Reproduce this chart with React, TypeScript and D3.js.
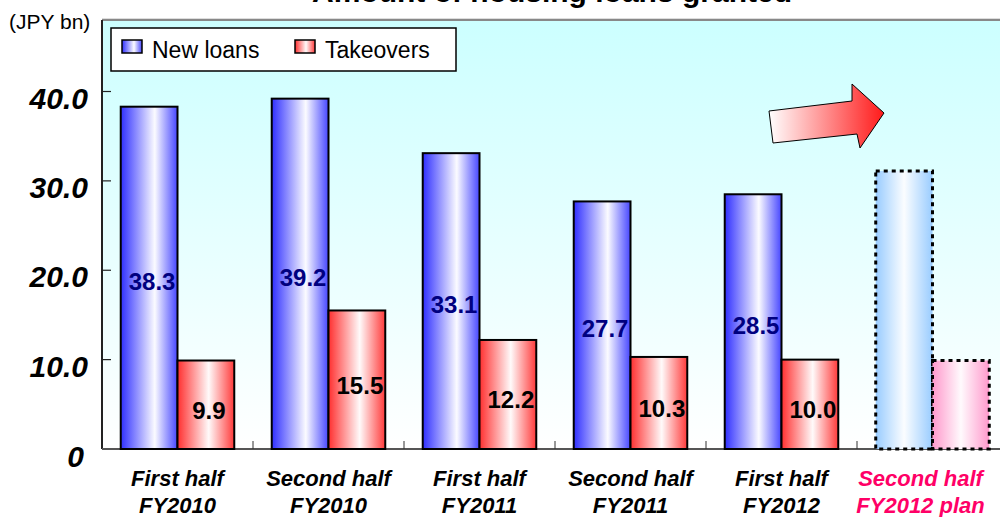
import React from "react";
import * as d3 from "d3";

const categories = [
  ["First half", "FY2010"],
  ["Second half", "FY2010"],
  ["First half", "FY2011"],
  ["Second half", "FY2011"],
  ["First half", "FY2012"],
  ["Second half", "FY2012 plan"],
];
const newLoans = [38.3, 39.2, 33.1, 27.7, 28.5, 31.1];
const takeovers = [9.9, 15.5, 12.2, 10.3, 10.0, 9.9];
const showLabel = [true, true, true, true, true, false];
const yTicks = [0, 10, 20, 30, 40];
const seriesNames = ["New loans", "Takeovers"];

const W = 1000;
const H = 517;
const plotLeft = 102;
const plotTop = 20;
const plotBottom = 449;

export default function App() {
  const keys = categories.map((_, i) => String(i));
  const x0 = d3.scaleBand<string>().domain(keys).range([plotLeft, plotLeft + 151 * 6]).padding(0);
  const x1 = d3
    .scaleBand<string>()
    .domain(["n", "t"])
    .range([0, x0.bandwidth()])
    .paddingInner(0)
    .paddingOuter(0.33);
  const y = d3.scaleLinear().domain([0, 48]).range([plotBottom, plotTop]);
  const font = "Arial, 'Liberation Sans', sans-serif";

  return (
    <svg width={W} height={H} style={{ position: "absolute", left: 0, top: 0 }} fontFamily={font}>
      <defs>
        <linearGradient id="bg" x1="0" y1="0" x2="0" y2="1">
          <stop offset="0" stopColor="#ccffff" />
          <stop offset="1" stopColor="#ffffff" />
        </linearGradient>
        <linearGradient id="gBlue" x1="0" y1="0" x2="1" y2="0">
          <stop offset="0" stopColor="#2f2fff" />
          <stop offset="0.6" stopColor="#fbfbff" />
          <stop offset="1" stopColor="#4646ff" />
        </linearGradient>
        <linearGradient id="gRed" x1="0" y1="0" x2="1" y2="0">
          <stop offset="0" stopColor="#ff2f2f" />
          <stop offset="0.55" stopColor="#fffafa" />
          <stop offset="1" stopColor="#ff3a3a" />
        </linearGradient>
        <linearGradient id="gBluePlan" x1="0" y1="0" x2="1" y2="0">
          <stop offset="0" stopColor="#99ccff" />
          <stop offset="0.5" stopColor="#fbfdff" />
          <stop offset="1" stopColor="#99ccff" />
        </linearGradient>
        <linearGradient id="gRedPlan" x1="0" y1="0" x2="1" y2="0">
          <stop offset="0" stopColor="#ff99cc" />
          <stop offset="0.5" stopColor="#fffafd" />
          <stop offset="1" stopColor="#ff99cc" />
        </linearGradient>
        <linearGradient id="gArrow" x1="0" y1="0" x2="1" y2="0">
          <stop offset="0" stopColor="#ffffff" />
          <stop offset="1" stopColor="#ff1a1a" />
        </linearGradient>
      </defs>

      {/* title */}
      <text x={552} y={2} textAnchor="middle" fontSize={30} fontWeight="bold" fill="#000">
        Amount of housing loans granted
      </text>

      {/* plot background */}
      <rect x={plotLeft} y={plotTop} width={W - plotLeft} height={plotBottom - plotTop} fill="url(#bg)" />
      <line x1={plotLeft} x2={W} y1={plotTop - 1.5} y2={plotTop - 1.5} stroke="#dddddd" strokeWidth={1} />
      <line x1={plotLeft} x2={W} y1={plotTop} y2={plotTop} stroke="#888888" strokeWidth={2} />

      <text x={9} y={29} fontSize={21} fill="#000">(JPY bn)</text>

      {/* y axis */}
      <line x1={plotLeft} x2={plotLeft} y1={plotTop} y2={plotBottom} stroke="#222" strokeWidth={2} />
      {yTicks.map((t) => (
        <g key={t}>
          {t > 0 && (
            <line x1={plotLeft} x2={plotLeft + 9} y1={y(t)} y2={y(t)} stroke="#222" strokeWidth={1.2} />
          )}
          <text
            x={t === 0 ? 84 : 88}
            y={y(t) + (t === 0 ? 18 : 17)}
            textAnchor="end"
            fontSize={30}
            fontWeight="bold"
            fontStyle="italic"
            fill="#000"
          >
            {t === 0 ? "0" : t.toFixed(1)}
          </text>
        </g>
      ))}

      {/* x axis */}
      <line x1={plotLeft} x2={W} y1={plotBottom} y2={plotBottom} stroke="#555" strokeWidth={2} />
      {keys.slice(1).map((k) => (
        <line key={k} x1={x0(k)!} x2={x0(k)!} y1={plotBottom} y2={plotBottom - 8} stroke="#333" strokeWidth={1} />
      ))}

      {/* bars */}
      {keys.map((k, i) => {
        const plan = !showLabel[i];
        const bx = x0(k)! + x1("n")!;
        const rx = x0(k)! + x1("t")!;
        const bw = x1.bandwidth();
        const stroke = "#000";
        const dash = plan ? "4,4" : undefined;
        const sw = plan ? 3 : 2;
        return (
          <g key={k}>
            <rect
              x={bx}
              y={y(newLoans[i])}
              width={bw}
              height={y(0) - y(newLoans[i])}
              fill={plan ? "url(#gBluePlan)" : "url(#gBlue)"}
              stroke={stroke}
              strokeWidth={sw}
              strokeDasharray={dash}
            />
            <rect
              x={rx}
              y={y(takeovers[i])}
              width={bw}
              height={y(0) - y(takeovers[i])}
              fill={plan ? "url(#gRedPlan)" : "url(#gRed)"}
              stroke={stroke}
              strokeWidth={sw}
              strokeDasharray={dash}
            />
            {showLabel[i] && (
              <>
                <text
                  x={bx + bw / 2 + 3}
                  y={(y(newLoans[i]) + y(0)) / 2 + 12}
                  textAnchor="middle"
                  fontSize={24}
                  fontWeight="bold"
                  fill="#000080"
                >
                  {newLoans[i].toFixed(1)}
                </text>
                <text
                  x={rx + bw / 2 + 3}
                  y={(y(takeovers[i]) + y(0)) / 2 + 14}
                  textAnchor="middle"
                  fontSize={24}
                  fontWeight="bold"
                  fill="#000"
                >
                  {takeovers[i].toFixed(1)}
                </text>
              </>
            )}
          </g>
        );
      })}

      {/* category labels */}
      {keys.map((k, i) => {
        const cx = x0(k)! + x0.bandwidth() / 2 - (showLabel[i] ? 0 : 12);
        const col = showLabel[i] ? "#000" : "#ff0066";
        return (
          <text key={k} textAnchor="middle" fontSize={22} fontWeight="bold" fontStyle="italic" fill={col}>
            <tspan x={cx} y={486}>{categories[i][0]}</tspan>
            <tspan x={cx} y={513}>{categories[i][1]}</tspan>
          </text>
        );
      })}

      {/* arrow */}
      <polygon
        points="769,111 852,101 852,84 884,113 860,148 857,134 773,143"
        fill="url(#gArrow)"
        stroke="#000"
        strokeWidth={1}
      />

      {/* legend */}
      <rect x={111} y={28} width={345} height={43} fill="#fff" stroke="#000" strokeWidth={1.5} />
      {seriesNames.map((s, i) => {
        const lx = i === 0 ? 122 : 295;
        return (
          <g key={s}>
            <rect
              x={lx}
              y={40}
              width={20}
              height={13}
              fill={i === 0 ? "url(#gBlue)" : "url(#gRed)"}
              stroke="#000"
              strokeWidth={1.5}
            />
            <text x={lx + 30} y={58} fontSize={23} fill="#000">
              {s}
            </text>
          </g>
        );
      })}
    </svg>
  );
}
